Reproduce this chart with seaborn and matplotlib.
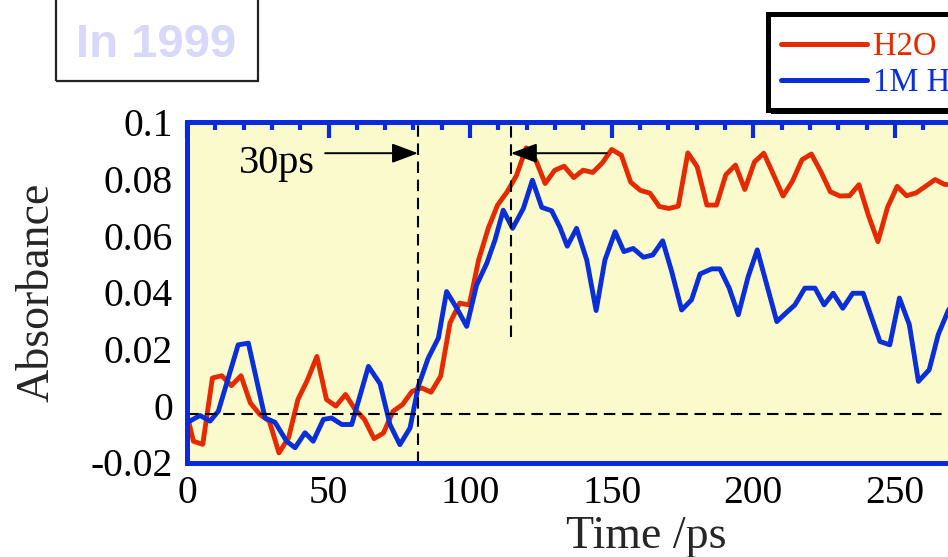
import matplotlib
matplotlib.use('Agg')
import matplotlib.pyplot as plt
from matplotlib.patches import Rectangle
from matplotlib.lines import Line2D
from matplotlib.ticker import MultipleLocator
import seaborn as sns
import pandas as pd

# ---------------- data ----------------
h2o_time = [0, 2.3, 5.6, 9.0, 12.3, 15.7, 19.1, 22.4, 25.8, 29.1, 32.5, 35.9, 39.2, 42.6,
            45.9, 49.3, 52.6, 56.0, 59.4, 62.7, 66.1, 69.4, 72.8, 76.1, 79.5, 82.9, 86.2,
            89.6, 92.9, 96.3, 99.7, 103.0, 106.4, 109.7, 113.1, 116.4, 119.8, 123.2, 126.5,
            129.9, 133.2, 136.6, 139.9, 143.3, 146.7, 150.0, 153.4, 156.7, 160.1, 163.5,
            166.8, 170.2, 173.5, 176.9, 180.2, 183.6, 187.0, 190.3, 193.7, 197.0, 200.4,
            203.7, 207.1, 210.5, 213.8, 217.2, 220.5, 223.9, 227.2, 230.6, 234.0, 237.3,
            240.7, 244.0, 247.4, 250.8, 254.1, 257.5, 260.8, 264.2, 267.5, 270.9]
h2o_abs = [-0.0030, -0.0125, -0.0136, 0.0098, 0.0106, 0.0071, 0.0106, 0.0010, -0.0031,
           -0.0054, -0.0166, -0.0113, 0.0022, 0.0092, 0.0174, 0.0022, -0.0001, 0.0040,
           -0.0013, -0.0048, -0.0116, -0.0096, -0.0019, 0.0004, 0.0051, 0.0063, 0.0048,
           0.0104, 0.0292, 0.0362, 0.0356, 0.0514, 0.0626, 0.0708, 0.0755, 0.0813, 0.0910,
           0.0866, 0.0784, 0.0831, 0.0845, 0.0805, 0.0831, 0.0823, 0.0857, 0.0904, 0.0884,
           0.0789, 0.0760, 0.0750, 0.0703, 0.0696, 0.0704, 0.0892, 0.0843, 0.0708, 0.0708,
           0.0815, 0.0849, 0.0763, 0.0860, 0.0891, 0.0816, 0.0740, 0.0792, 0.0868, 0.0888,
           0.0825, 0.0755, 0.0740, 0.0741, 0.0780, 0.0670, 0.0579, 0.0700, 0.0774, 0.0741,
           0.0751, 0.0774, 0.0798, 0.0781, 0.0780]

acid_time = [0, 4.6, 8.2, 11.1, 18.1, 21.7, 27.6, 31.1, 35.2, 38.2, 41.7, 44.6, 48.2, 51.1,
             54.7, 58.2, 64.1, 68.2, 71.7, 75.2, 78.8, 81.7, 85.2, 88.8, 91.7, 95.3, 98.8,
             102.3, 105.9, 108.8, 111.7, 115.0, 118.8, 122.0, 125.3, 128.8, 131.7, 134.3,
             137.6, 141.2, 144.5, 147.6, 151.2, 154.3, 157.6, 161.2, 164.5, 168.0, 171.2,
             174.7, 178.2, 181.2, 185.3, 188.2, 191.5, 194.7, 198.2, 201.4, 208.3, 211.5,
             214.7, 218.2, 221.8, 225.0, 228.2, 231.6, 235.1, 238.8, 244.7, 248.2, 251.6,
             255.1, 258.3, 262.1, 265.3, 268.7, 272.0]
acid_abs = [-0.0060, -0.0034, -0.0054, -0.0019, 0.0215, 0.0221, -0.0043, -0.0058, -0.0125,
            -0.0148, -0.0095, -0.0125, -0.0048, -0.0043, -0.0066, -0.0066, 0.0139, 0.0078,
            -0.0066, -0.0137, -0.0078, 0.0069, 0.0168, 0.0239, 0.0403, 0.0344, 0.0280,
            0.0426, 0.0503, 0.0585, 0.0690, 0.0626, 0.0696, 0.0796, 0.0700, 0.0688, 0.0630,
            0.0563, 0.0626, 0.0514, 0.0336, 0.0514, 0.0614, 0.0544, 0.0555, 0.0524, 0.0532,
            0.0582, 0.0473, 0.0338, 0.0374, 0.0465, 0.0483, 0.0483, 0.0415, 0.0321, 0.0456,
            0.0550, 0.0297, 0.0327, 0.0356, 0.0415, 0.0415, 0.0356, 0.0397, 0.0344, 0.0397,
            0.0397, 0.0227, 0.0215, 0.0380, 0.0286, 0.0086, 0.0127, 0.0251, 0.0333, 0.0400]

series_labels = ['H2O', '1M HCl']
xtick_vals = [0, 50, 100, 150, 200, 250]
xtick_labels = ['0', '50', '100', '150', '200', '250']
ytick_vals = [-0.02, 0, 0.02, 0.04, 0.06, 0.08, 0.1]
ytick_labels = ['-0.02', '0', '0.02', '0.04', '0.06', '0.08', '0.1']
baseline_level = -0.0028
start_marker = 81.6
end_marker = 114.4
arrow_level = 0.0891
arrow_left_start = 48.8
arrow_right_start = 148.3
end_marker_bottom = 0.0243

# ---------------- styling ----------------
RED = '#e62a00'
BLUE = '#0a2ed8'
AXBLUE = '#0a2bdc'
YELLOW = '#FAFACD'

sns.set_style('white')
plt.rcParams['font.family'] = ['Liberation Serif', 'DejaVu Serif']

W, H = 948, 557
fig = plt.figure(figsize=(W / 100, H / 100), dpi=100)


def fx(px):
    return px / W


def fy(py):
    return 1 - py / H


x0, y_top, y_bot = 186.9, 122.3, 462.5
px_per_ps = 2.832
xmax = 300
ax = fig.add_axes([fx(x0), fy(y_bot), xmax * px_per_ps / W, (y_bot - y_top) / H])
ax.set_facecolor(YELLOW)

df_h2o = pd.DataFrame({'Time': h2o_time, 'Absorbance': h2o_abs})
df_acid = pd.DataFrame({'Time': acid_time, 'Absorbance': acid_abs})
sns.lineplot(data=df_h2o, x='Time', y='Absorbance', ax=ax, color=RED,
             linewidth=3.5, zorder=2.0)
sns.lineplot(data=df_acid, x='Time', y='Absorbance', ax=ax, color=BLUE,
             linewidth=3.5, zorder=2.1)

ax.set_xlim(0, xmax)
ax.set_ylim(-0.02, 0.1)
ax.set_xlabel('')
ax.set_ylabel('')

# dashed guide lines
dash = (0, (5.5, 3.2))
ax.axhline(baseline_level, color='black', lw=1.5, ls=dash, zorder=2.3)
ax.axvline(start_marker, color='black', lw=1.5, ls=dash, zorder=2.3)
ax.plot([end_marker, end_marker], [end_marker_bottom, 0.1], color='black', lw=1.5,
        ls=dash, zorder=2.3)

# arrows
arrow_style = '-|>,head_length=16,head_width=6'
ax.annotate('', xy=(start_marker, arrow_level), xytext=(arrow_left_start, arrow_level),
            arrowprops=dict(arrowstyle=arrow_style, mutation_scale=1, lw=1.4,
                            color='black', shrinkA=0, shrinkB=0), zorder=5)
ax.annotate('', xy=(end_marker, arrow_level), xytext=(arrow_right_start, arrow_level),
            arrowprops=dict(arrowstyle=arrow_style, mutation_scale=1, lw=1.4,
                            color='black', shrinkA=0, shrinkB=0), zorder=5)
ax.text(18.4, 0.0822, '30ps', fontsize=29, va='baseline', ha='left', color='black')

# axes frame and ticks
for s in ax.spines.values():
    s.set_color(AXBLUE)
    s.set_linewidth(3.6)
ax.set_axisbelow(False)
ax.set_xticks(xtick_vals, xtick_labels)
ax.set_yticks(ytick_vals, ytick_labels)
ax.xaxis.set_minor_locator(MultipleLocator(10))
ax.yaxis.set_minor_locator(MultipleLocator(0.005))
ax.tick_params(which='both', direction='in', color=AXBLUE, top=True, right=True,
               width=3.0, labelcolor='black')
ax.tick_params(which='major', length=11.5)
ax.tick_params(which='minor', length=6)
ax.tick_params(axis='x', which='major', labelsize=28.5, pad=9)
ax.tick_params(axis='y', which='major', labelsize=28.5, pad=10)

# axis labels
fig.text(fx(646), fy(548), 'Time /ps', ha='center', va='baseline', fontsize=33)
fig.text(fx(37), fy(292.5), 'Absorbance', rotation=90, ha='center', va='center',
         fontsize=33)

# "In 1999" box
fig.patches.append(Rectangle((fx(56), fy(81)), (258 - 56) / W, 90 / H,
                             transform=fig.transFigure, fill=False, ec='#222222',
                             lw=1.6))
fig.text(fx(156.5), fy(57), 'In 1999', ha='center', va='baseline', fontsize=34,
         fontweight='bold', color='#D8D8FA',
         family=['Liberation Sans', 'DejaVu Sans'])

# legend (cut at the right edge like the reference)
fig.patches.append(Rectangle((fx(771), fy(114)), 400 / W, (114 - 18) / H,
                             transform=fig.transFigure, fc='black', ec='none'))
fig.patches.append(Rectangle((fx(767.5), fy(109.5)), 400 / W, (109.5 - 14.2) / H,
                             transform=fig.transFigure, fc='white', ec='black',
                             lw=3.6))
fig.lines.append(Line2D([fx(781), fx(867)], [fy(44), fy(44)], transform=fig.transFigure,
                        color=RED, lw=3.6))
fig.lines.append(Line2D([fx(781), fx(867)], [fy(80), fy(80)], transform=fig.transFigure,
                        color=BLUE, lw=3.6))
fig.text(fx(873), fy(55), series_labels[0], color=RED, fontsize=23.5, va='baseline')
fig.text(fx(873), fy(91), series_labels[1], color=BLUE, fontsize=23.5, va='baseline')

fig.savefig('out.png', dpi=100)
